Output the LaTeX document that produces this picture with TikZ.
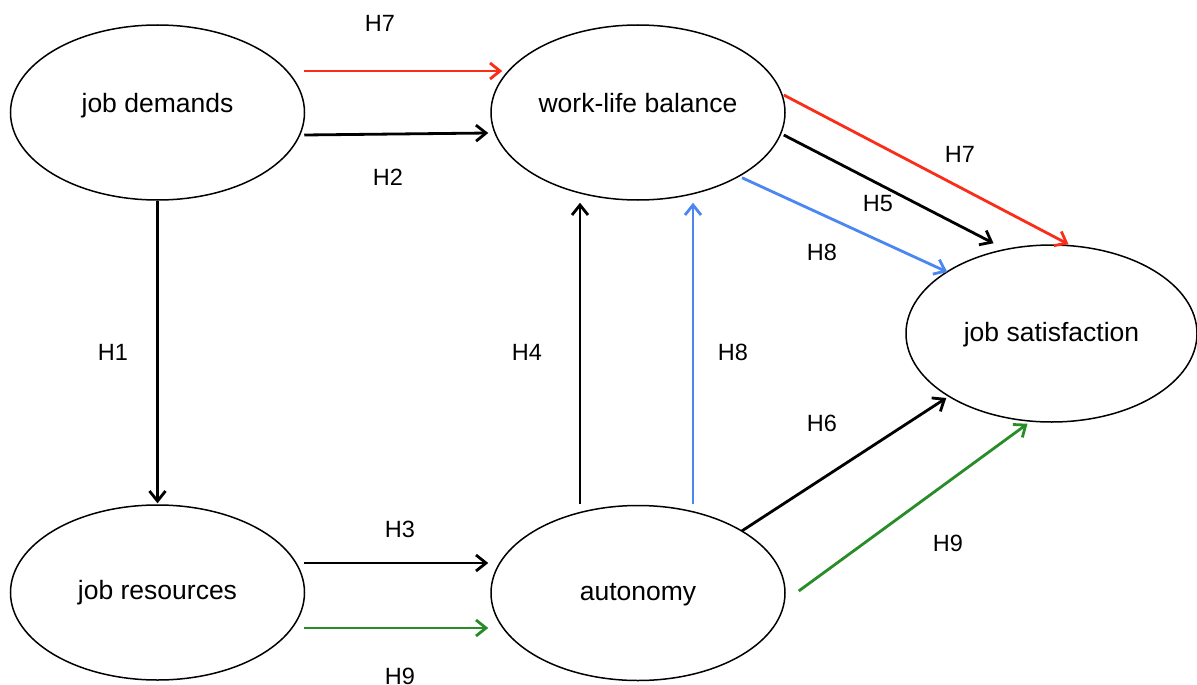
\documentclass[tikz,border=0pt]{standalone}
\usepackage{fontspec}
\setmainfont{Liberation Sans}
\usetikzlibrary{shapes.geometric,arrows.meta,calc}
\definecolor{hred}{RGB}{250,45,25}
\definecolor{hblue}{RGB}{75,135,240}
\definecolor{hgreen}{RGB}{40,140,40}
\begin{document}
\begin{tikzpicture}[x=1pt,y=-1pt,
  construct/.style={ellipse,draw,line width=1.5pt,minimum width=294pt,minimum height=175pt,inner sep=0pt,
     text height=0pt,text depth=0pt,font=\fontsize{26.5}{30}\selectfont},
  lowtext/.style={text height=14pt},
  hlabel/.style={font=\fontsize{23.5}{28}\selectfont,inner sep=0pt},
  link/.style={line width=2.8pt,-{Straight Barb[length=10pt,width=16pt,line width=2.8pt]}}]
\useasboundingbox (0,0) rectangle (1197,685);
\fill[white] (0,0) rectangle (1197,685);

\node[construct] (jd) at (157.5,112.5) {job demands};
\node[construct] (wlb) at (638,112.5) {work-life balance};
\node[construct,lowtext,text height=16pt,minimum width=291pt,minimum height=177pt] (js) at (1051.5,333.5) {job satisfaction};
\node[construct,lowtext] (jr) at (157.5,592.5) {job resources};
\node[construct,lowtext] (au) at (638,593) {autonomy};

% top horizontal arrows
\draw[link,hred] ($(jd.east)+(-1,-41.5)$) -- ($(wlb.west)+(12,-41.5)$);
\draw[link] ($(jd.east)+(-1,22.5)$) -- ($(wlb.west)+(-2,20.5)$);
% H1
\draw[link] (jd.south) -- ($(jr.north)+(0,-1)$);
% bottom horizontal arrows
\draw[link] ($(jr.east)+(-1,-29.5)$) -- ($(au.west)+(-2,-30)$);
\draw[link,hgreen] ($(jr.east)+(-1,35.5)$) -- ($(au.west)+(-2,35)$);
% vertical arrows
\draw[link] ($(au.north)+(-58,-1)$) -- ($(wlb.south)+(-58,2)$);
\draw[link,hblue] ($(au.north)+(55,-1)$) -- ($(wlb.south)+(55,2)$);
% to job satisfaction
\draw[link,hred] ($(wlb.east)+(-2,-17.5)$) -- ($(js.north)+(17,0)$);
\draw[link] ($(wlb.east)+(-2,22.5)$) -- ($(js.north)+(-58,-1)$);
\draw[link,hblue] ($(wlb.south)+(104,-23)$) -- ($(js.west)+(42,-61.5)$);
\draw[link] ($(au.east)+(-44,-62)$) -- ($(js.west)+(41,64.5)$);
\draw[link,hgreen] ($(au.east)+(13,-2)$) -- ($(js.south)+(-24,1)$);

% labels
\node[hlabel] (l7a) at (380,23) {H7};
\node[hlabel] (l2) at (388,177) {H2};
\node[hlabel] (l1) at (113,352) {H1};
\node[hlabel] (l4) at (527,352) {H4};
\node[hlabel] (l8a) at (733,352) {H8};
\node[hlabel] (l3) at (400,529) {H3};
\node[hlabel] (l9a) at (400,676) {H9};
\node[hlabel] (l7b) at (960,154) {H7};
\node[hlabel] (l5) at (878,204) {H5};
\node[hlabel] (l8b) at (822,252) {H8};
\node[hlabel] (l6) at (822,423) {H6};
\node[hlabel] (l9b) at (948,543) {H9};
\end{tikzpicture}
\end{document}
